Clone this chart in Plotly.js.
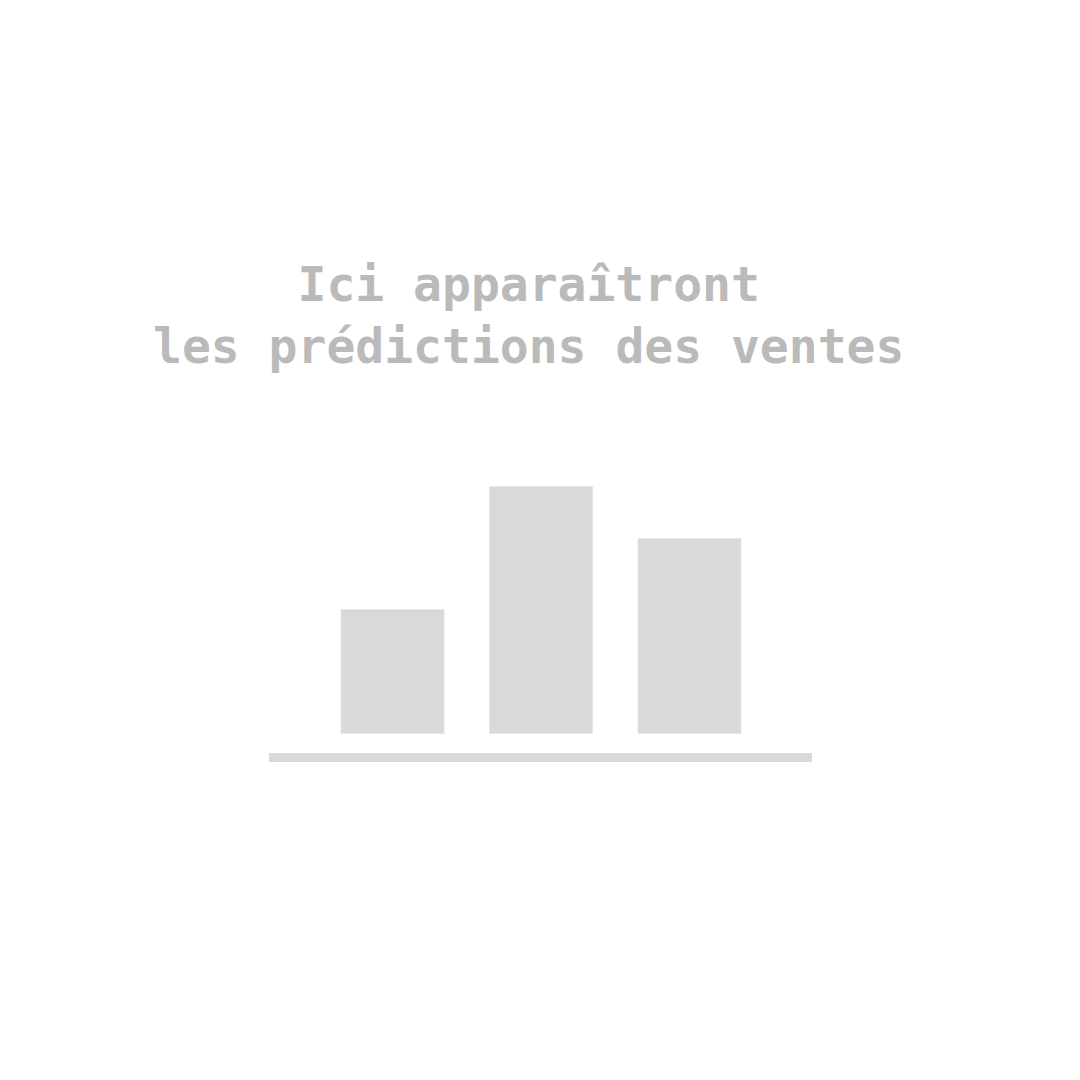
<!DOCTYPE html>
<html>
<head>
<meta charset="utf-8">
<script src="https://cdn.plot.ly/plotly-3.0.1.min.js"></script>
<style>html,body{margin:0;padding:0;background:#fff;}#chart{width:1080px;height:1080px;}</style>
</head>
<body>
<div id="chart"></div>
<script>
// Data
const categories = ["A", "B", "C"];
const values = [124, 247, 195];
const messageLines = ["Ici apparaîtront", "les prédictions des ventes"];

// Layout geometry
const W = 1080, H = 1080;
const step = 148.5;           // px between bar centers
const firstCenter = 392.5;    // px of first bar center
const baseY = 733.5;          // px of bar baseline
const x0 = -firstCenter / step;
const x1 = (W - firstCenter) / step;

const trace = {
  type: "bar",
  x: categories,
  y: values,
  marker: { color: "#d9d9d9", line: { color: "#e6e6e6", width: 1 } },
  hoverinfo: "skip"
};

const layout = {
  width: W, height: H,
  margin: { l: 0, r: 0, t: 0, b: 0, pad: 0 },
  paper_bgcolor: "#ffffff",
  plot_bgcolor: "#ffffff",
  showlegend: false,
  bargap: 1 - 103 / step,
  xaxis: { type: "category", range: [x0, x1], visible: false, fixedrange: true },
  yaxis: { range: [-(H - baseY), baseY], visible: false, fixedrange: true },
  shapes: [{
    type: "rect", xref: "paper", yref: "paper",
    x0: 269 / W, x1: 812 / W, y0: 1 - 762 / H, y1: 1 - 753 / H,
    fillcolor: "#d9d9d9", line: { width: 0 }
  }],
  annotations: [{
    xref: "paper", yref: "paper",
    x: 528 / W, y: 1 - 315 / H,
    xanchor: "center", yanchor: "middle",
    showarrow: false, align: "center",
    text: messageLines.join("<br>"),
    font: { family: "DejaVu Sans Mono, Liberation Mono, monospace", size: 48, color: "#bababa", weight: "bold" }
  }]
};

Plotly.newPlot("chart", [trace], layout, { displayModeBar: false, staticPlot: true });
</script>
</body>
</html>
